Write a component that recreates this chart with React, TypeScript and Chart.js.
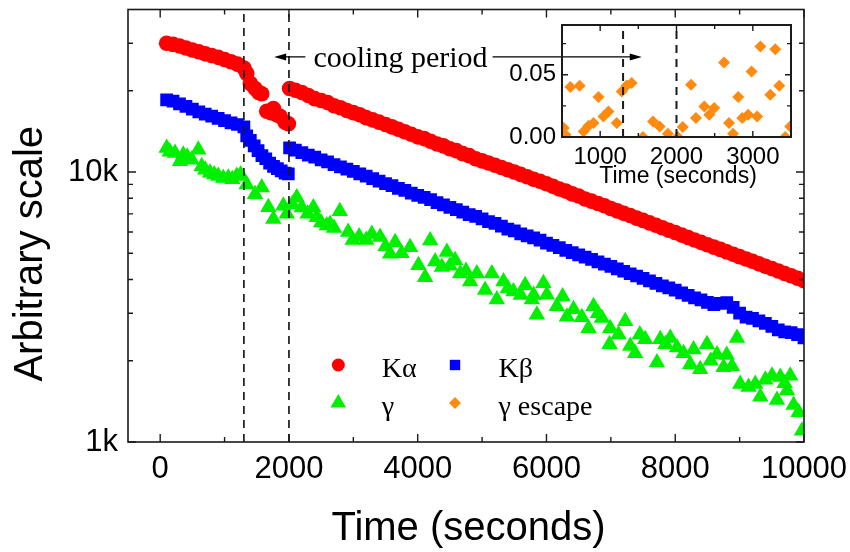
import React, { useEffect, useRef } from 'react';
import { Chart, registerables } from 'chart.js';

Chart.register(...registerables);

// ---------------- data ----------------
const earlyTime = [100, 200, 300, 400, 500, 600, 700, 800, 900, 1000, 1100, 1200, 1300];
const decayTime = [
  2010, 2100, 2200, 2300, 2400, 2500, 2600, 2700, 2800, 2900,
  3000, 3100, 3200, 3300, 3400, 3500, 3600, 3700, 3800, 3900,
  4000, 4100, 4200, 4300, 4400, 4500, 4600, 4700, 4800, 4900,
  5000, 5100, 5200, 5300, 5400, 5500, 5600, 5700, 5800, 5900,
  6000, 6100, 6200, 6300, 6400, 6500, 6600, 6700, 6800, 6900,
  7000, 7100, 7200, 7300, 7400, 7500, 7600, 7700, 7800, 7900,
  8000, 8100, 8200, 8300, 8400, 8500, 8600, 8700, 8800, 8900,
  9000, 9100, 9200, 9300, 9400, 9500, 9600, 9700, 9800, 9900, 10000,
];

const kaEarly = [30000, 29700, 29300, 28800, 28300, 27900, 27400, 27000, 26600, 26100, 25600, 25100, 24300];
const kaCoolTime = [1344, 1400, 1473, 1530, 1577, 1655, 1720, 1758, 1810, 1862, 1940, 1991];
const kaCool = [23200, 21300, 20400, 19700, 19500, 16800, 16600, 17200, 16300, 16100, 15300, 15100];
const kaDecay = [
  20400, 20100, 19700, 19200, 18700, 18400, 18100, 17600, 17300, 16900,
  16600, 16300, 15900, 15600, 15300, 15000, 14700, 14400, 14100, 13800,
  13500, 13300, 13000, 12700, 12500, 12200, 12000, 11700, 11500, 11200,
  11000, 10800, 10600, 10400, 10200, 10000, 9800, 9600, 9400, 9250,
  9050, 8850, 8650, 8500, 8300, 8150, 7950, 7800, 7650, 7500,
  7330, 7180, 7030, 6900, 6750, 6620, 6480, 6350, 6220, 6090,
  5970, 5840, 5720, 5600, 5490, 5380, 5270, 5170, 5060, 4960,
  4860, 4760, 4670, 4570, 4480, 4390, 4300, 4210, 4130, 4040, 3960,
];

const kbEarly = [18500, 18300, 17900, 17500, 17100, 16700, 16400, 16100, 15800, 15500, 15200, 15000, 14700];
const kbCoolTime = [1344, 1400, 1460, 1520, 1580, 1640, 1700, 1760, 1820, 1880, 1940, 1990];
const kbCool = [13600, 13100, 12500, 12000, 11500, 11200, 10800, 10500, 10300, 10100, 9900, 9850];
const kbDecay = [
  12300, 12050, 11800, 11550, 11350, 11100, 10900, 10650, 10450, 10250,
  10050, 9850, 9650, 9450, 9250, 9050, 8900, 8700, 8550, 8350,
  8200, 8050, 7900, 7700, 7550, 7400, 7250, 7100, 6950, 6850,
  6700, 6550, 6450, 6300, 6150, 6050, 5900, 5800, 5700, 5600,
  5450, 5350, 5250, 5130, 5030, 4930, 4840, 4750, 4650, 4560,
  4470, 4380, 4290, 4200, 4120, 4040, 3950, 3870, 3790, 3720,
  3650, 3570, 3490, 3420, 3360, 3290, 3230, 3260, 3280, 3150,
  3000, 2900, 2870, 2810, 2750, 2680, 2600, 2560, 2540, 2500, 2430,
];

const gammaTime = [
  101, 150, 230, 308, 359, 420, 490, 592, 645, 700, 774, 840, 903, 980, 1058, 1120, 1189, 1250,
  1344, 1473, 1577, 1680, 1758, 1913, 1966, 2050, 2121, 2199, 2290, 2379, 2432, 2500, 2587, 2639,
  2700, 2790, 2920, 2990, 3090, 3200, 3287, 3416, 3500, 3571, 3649, 3750, 3882, 4011, 4115, 4193,
  4271, 4375, 4453, 4500, 4581, 4659, 4750, 4814, 4918, 5047, 5151, 5229, 5332, 5400, 5487, 5600,
  5669, 5773, 5800, 5851, 5953, 6006, 6161, 6250, 6317, 6420, 6550, 6653, 6731, 6800, 6861, 6980,
  6990, 7119, 7223, 7301, 7378, 7450, 7534, 7716, 7767, 7850, 7922, 8027, 8130, 8233, 8285, 8388,
  8493, 8550, 8648, 8751, 8800, 8881, 8959, 9010, 9139, 9243, 9321, 9400, 9503, 9580, 9632, 9700,
  9736, 9787, 9839, 9917, 9969,
];
const gammaCounts = [
  12280, 11900, 11770, 10970, 11600, 11400, 11100, 12100, 10500, 10200, 9940, 9800, 9670, 9500, 9530, 9400, 9670, 9800,
  9000, 8270, 8760, 7400, 6700, 7500, 7000, 7600, 8050, 7390, 7000, 7390, 6800, 6500, 6340, 6420,
  6200, 7150, 5990, 5600, 5770, 5600, 5900, 5740, 5300, 4980, 5500, 5000, 5270, 4520, 4080, 5580,
  4660, 4450, 5060, 4500, 4710, 4210, 4300, 3930, 4210, 3660, 4210, 3370, 3930, 3700, 3610, 3500,
  3810, 3370, 3500, 2960, 3870, 3510, 3180, 3460, 2910, 3100, 2900, 2640, 3180, 3000, 2880, 2300,
  2640, 2500, 2800, 2270, 2130, 2500, 2400, 1970, 2400, 2300, 2430, 2240, 2130, 1940, 2200, 1860,
  2300, 2000, 2110, 1890, 2100, 1910, 2430, 1640, 1600, 1640, 1470, 1700, 1760, 1430, 1740, 1650,
  1550, 1760, 1370, 1290, 1100,
];

const escTime = [
  524, 545, 610, 731, 783, 848, 913, 978, 1043, 1108, 1217, 1282, 1347, 1412, 1560, 1692, 1779, 1887,
  2017, 2082, 2191, 2255, 2364, 2429, 2494, 2623, 2688, 2740, 2809, 2861, 2939, 2983, 3056, 3099,
  3229, 3294, 3346, 3424, 3489,
];
const escRatio = [
  0.0072, 0.0018, 0.0401, 0.0412, 0.0045, 0.0091, 0.0112, 0.0321, 0.0165, 0.0205, 0.0112, 0.0366, 0.0414, 0.0433, 0.0, 0.0125, 0.0085, 0.0026,
  0.0, 0.008, 0.042, 0.0152, 0.0246, 0.0179, 0.0233, 0.0599, 0.0112, 0.0026, 0.0321, 0.0152, 0.0179, 0.0527, 0.0165, 0.0727,
  0.0339, 0.0706, 0.0412, 0.0, 0.0085,
];

// axes / ticks
const xMin = -500;
const xMax = 10000;
const xTickValues = [0, 2000, 4000, 6000, 8000, 10000];
const xMinorValues = [1000, 3000, 5000, 7000, 9000];
const yMin = 1000;
const yMax = 40000;
const yTickValues = [1000, 10000];
const yTickLabels = ['1k', '10k'];
const yMinorValues = [2000, 3000, 4000, 5000, 6000, 7000, 8000, 9000, 20000, 30000];

const insetXMin = 500;
const insetXMax = 3500;
const insetXTicks = [1000, 2000, 3000];
const insetXMinor = [1500, 2500];
const insetYMin = 0;
const insetYMax = 0.09;
const insetYTicks = [0, 0.05];
const insetYMinor = [0.025, 0.075];

const coolingStart = 1300;
const coolingEnd = 2000;
const coolArrowLeft = 1770;
const coolTextStart = 2380;
const coolArrowRight = 7480;
const coolArrowLevel = 26700;
const coolLabel = 'cooling period';

const seriesNames = ['Kα', 'Kβ', 'γ', 'γ escape'];
const seriesColors = ['#ff0000', '#0000ff', '#00f000', '#ff8a10'];
const seriesShapes = ['circle', 'rect', 'triangle', 'rectRot'];

const xTitle = 'Time (seconds)';
const yTitle = 'Arbitrary scale';

const SANS = '"Liberation Sans", Arial, sans-serif';
const SERIF = '"Liberation Serif", "Times New Roman", serif';
const INK = '#1a1a1a';

// ---------------- helpers ----------------
const pts = (xs: number[], ys: number[]) => xs.map((x, i) => ({ x, y: ys[i] }));

function drawShape(ctx: CanvasRenderingContext2D, shape: string, x: number, y: number, r: number) {
  ctx.beginPath();
  if (shape === 'circle') {
    ctx.arc(x, y, r, 0, Math.PI * 2);
  } else if (shape === 'rect') {
    ctx.rect(x - r, y - r, 2 * r, 2 * r);
  } else if (shape === 'triangle') {
    const s = Math.sin(Math.PI / 3) * r;
    ctx.moveTo(x, y - r);
    ctx.lineTo(x + s, y + r / 2);
    ctx.lineTo(x - s, y + r / 2);
    ctx.closePath();
  } else {
    ctx.moveTo(x, y - r);
    ctx.lineTo(x + r, y);
    ctx.lineTo(x, y + r);
    ctx.lineTo(x - r, y);
    ctx.closePath();
  }
  ctx.fill();
}

function framePlugin(o: {
  xMajor: number[]; xMinor: number[]; yMajor: number[]; yMinor: number[];
  major: number; minor: number; frameWidth: number; tickWidth: number;
}) {
  return {
    id: 'frameTicks',
    afterDatasetsDraw(chart: any) {
      const { ctx, chartArea: a } = chart;
      const xs = chart.scales.x;
      const ys = chart.scales.y;
      ctx.save();
      ctx.strokeStyle = INK;
      ctx.lineWidth = o.tickWidth;
      ctx.beginPath();
      const xt = (vals: number[], len: number) =>
        vals.forEach((v) => {
          const p = xs.getPixelForValue(v);
          if (p < a.left - 0.5 || p > a.right + 0.5) return;
          ctx.moveTo(p, a.bottom);
          ctx.lineTo(p, a.bottom - len);
          ctx.moveTo(p, a.top);
          ctx.lineTo(p, a.top + len);
        });
      const yt = (vals: number[], len: number) =>
        vals.forEach((v) => {
          const p = ys.getPixelForValue(v);
          if (p < a.top - 0.5 || p > a.bottom + 0.5) return;
          ctx.moveTo(a.left, p);
          ctx.lineTo(a.left + len, p);
          ctx.moveTo(a.right, p);
          ctx.lineTo(a.right - len, p);
        });
      xt(o.xMajor, o.major);
      xt(o.xMinor, o.minor);
      yt(o.yMajor, o.major);
      yt(o.yMinor, o.minor);
      ctx.stroke();
      ctx.lineWidth = o.frameWidth;
      ctx.strokeRect(a.left, a.top, a.right - a.left, a.bottom - a.top);
      ctx.restore();
    },
  };
}

function titlePlugin(o: {
  xText: string; xFont: string; xDx: number; xBaseline: number;
  yText?: string; yFont?: string; yBaseline?: number; yDy?: number;
}) {
  return {
    id: 'axisTitles',
    afterDraw(chart: any) {
      const { ctx, chartArea: a } = chart;
      ctx.save();
      ctx.fillStyle = '#000';
      ctx.textAlign = 'center';
      ctx.textBaseline = 'alphabetic';
      ctx.font = o.xFont;
      ctx.fillText(o.xText, (a.left + a.right) / 2 + o.xDx, a.bottom + o.xBaseline);
      if (o.yText) {
        ctx.font = o.yFont;
        ctx.translate(a.left + (o.yBaseline as number), (a.top + a.bottom) / 2 + (o.yDy as number));
        ctx.rotate(-Math.PI / 2);
        ctx.fillText(o.yText, 0, 0);
      }
      ctx.restore();
    },
  };
}

const annotationPlugin = {
  id: 'coolingArrow',
  afterDraw(chart: any) {
    const { ctx } = chart;
    const xs = chart.scales.x;
    const ys = chart.scales.y;
    const y = ys.getPixelForValue(coolArrowLevel);
    const xl = xs.getPixelForValue(coolArrowLeft);
    const xr = xs.getPixelForValue(coolArrowRight);
    const xt = xs.getPixelForValue(coolTextStart);
    ctx.save();
    ctx.font = `30px ${SERIF}`;
    const w = ctx.measureText(coolLabel).width;
    ctx.fillStyle = '#000';
    ctx.textAlign = 'left';
    ctx.textBaseline = 'alphabetic';
    ctx.fillText(coolLabel, xt, y + 10);
    ctx.strokeStyle = '#000';
    ctx.lineWidth = 1.2;
    ctx.beginPath();
    ctx.moveTo(xl + 4, y);
    ctx.lineTo(xt - 8, y);
    ctx.moveTo(xt + w + 5, y);
    ctx.lineTo(xr - 4, y);
    ctx.stroke();
    ctx.beginPath();
    ctx.moveTo(xl, y);
    ctx.lineTo(xl + 12, y - 3.5);
    ctx.lineTo(xl + 12, y + 3.5);
    ctx.closePath();
    ctx.moveTo(xr, y);
    ctx.lineTo(xr - 12, y - 3.5);
    ctx.lineTo(xr - 12, y + 3.5);
    ctx.closePath();
    ctx.fill();
    ctx.restore();
  },
};

const legendPlugin = {
  id: 'innerLegend',
  afterDraw(chart: any) {
    const { ctx, chartArea: a } = chart;
    const cols = [a.left + 210.3, a.left + 327];
    const rows = [a.bottom - 77, a.bottom - 39];
    const sizes: Record<string, number> = { circle: 6.5, rect: 5.2, triangle: 9, rectRot: 6 };
    const order = [0, 1, 2, 3];
    ctx.save();
    ctx.font = `28px ${SERIF}`;
    ctx.textAlign = 'left';
    ctx.textBaseline = 'alphabetic';
    order.forEach((s, i) => {
      const cx = cols[i % 2];
      const cy = rows[Math.floor(i / 2)];
      ctx.fillStyle = seriesColors[s];
      drawShape(ctx, seriesShapes[s], cx, cy, sizes[seriesShapes[s]]);
      ctx.fillStyle = '#000';
      ctx.fillText(seriesNames[s], cx + 43.5, cy + 11.5);
    });
    ctx.restore();
  },
};

const noPad = (s: any) => {
  s.paddingTop = 0;
  s.paddingBottom = 0;
  s.paddingLeft = 0;
  s.paddingRight = 0;
};

// ---------------- component ----------------
export default function App() {
  const mainRef = useRef<HTMLCanvasElement | null>(null);
  const insetRef = useRef<HTMLCanvasElement | null>(null);

  useEffect(() => {
    document.body.style.margin = '0';
    const tickFont = { family: SANS, size: 31 };

    const kaData = pts([...earlyTime, ...kaCoolTime, ...decayTime], [...kaEarly, ...kaCool, ...kaDecay]);
    const kbData = pts([...earlyTime, ...kbCoolTime, ...decayTime], [...kbEarly, ...kbCool, ...kbDecay]);
    const gData = pts(gammaTime, gammaCounts);

    const dashLine = (x: number, lo: number, hi: number, w: number) => ({
      label: 'dash',
      data: [{ x, y: lo }, { x, y: hi }],
      showLine: true,
      borderColor: INK,
      borderWidth: w,
      borderDash: [8, 6],
      pointRadius: 0,
      clip: 0,
      order: 0,
    });

    const main = new Chart(mainRef.current as HTMLCanvasElement, {
      type: 'scatter',
      data: {
        datasets: [
          dashLine(coolingStart, yMin, yMax, 1.7) as any,
          dashLine(coolingEnd, yMin, yMax, 1.7) as any,
          {
            label: seriesNames[0], data: kaData, pointStyle: 'circle', pointRadius: 7.8,
            backgroundColor: seriesColors[0], borderWidth: 0, clip: 0, order: 1,
          },
          {
            label: seriesNames[1], data: kbData, pointStyle: 'rect', pointRadius: 9,
            backgroundColor: seriesColors[1], borderWidth: 0, clip: 0, order: 1,
          },
          {
            label: seriesNames[2], data: gData, pointStyle: 'triangle', pointRadius: 9.5,
            backgroundColor: seriesColors[2], borderWidth: 0, clip: 0, order: 1,
          },
        ],
      },
      options: {
        responsive: false,
        animation: false,
        devicePixelRatio: 1,
        events: [],
        layout: { padding: { left: 0, right: 46, top: 5, bottom: 0 } },
        plugins: { legend: { display: false }, tooltip: { enabled: false } },
        scales: {
          x: {
            type: 'linear', min: xMin, max: xMax,
            afterBuildTicks: (s: any) => { s.ticks = xTickValues.map((value) => ({ value })); },
            afterFit: (s: any) => { s.height = 110; noPad(s); },
            grid: { display: false, drawTicks: false },
            border: { display: false },
            ticks: { padding: 9, color: '#000', font: tickFont, maxRotation: 0, callback: (v: any) => String(v) },
          },
          y: {
            type: 'logarithmic', min: yMin, max: yMax,
            afterBuildTicks: (s: any) => { s.ticks = yTickValues.map((value) => ({ value })); },
            afterFit: (s: any) => { s.width = 128; noPad(s); },
            grid: { display: false, drawTicks: false },
            border: { display: false },
            ticks: {
              padding: 10, color: '#000', font: tickFont,
              callback: (v: any) => { const i = yTickValues.indexOf(Number(v)); return i >= 0 ? yTickLabels[i] : ''; },
            },
          },
        },
      } as any,
      plugins: [
        framePlugin({ xMajor: xTickValues, xMinor: xMinorValues, yMajor: yTickValues, yMinor: yMinorValues, major: 8, minor: 5, frameWidth: 1.6, tickWidth: 1.4 }),
        titlePlugin({ xText: xTitle, xFont: `40px ${SANS}`, xDx: 2.5, xBaseline: 97.5, yText: yTitle, yFont: `40px ${SANS}`, yBaseline: -86.3, yDy: 28 }),
        annotationPlugin,
        legendPlugin,
      ],
    });

    const inset = new Chart(insetRef.current as HTMLCanvasElement, {
      type: 'scatter',
      data: {
        datasets: [
          dashLine(coolingStart, insetYMin, insetYMax, 2) as any,
          dashLine(coolingEnd, insetYMin, insetYMax, 2) as any,
          {
            label: seriesNames[3], data: pts(escTime, escRatio), pointStyle: 'rectRot', pointRadius: 6,
            backgroundColor: seriesColors[3], borderWidth: 0, clip: 0, order: 1,
          },
        ],
      },
      options: {
        responsive: false,
        animation: false,
        devicePixelRatio: 1,
        events: [],
        layout: { padding: { left: 0, right: 19, top: 25, bottom: 0 } },
        plugins: { legend: { display: false }, tooltip: { enabled: false } },
        scales: {
          x: {
            type: 'linear', min: insetXMin, max: insetXMax,
            afterBuildTicks: (s: any) => { s.ticks = insetXTicks.map((value) => ({ value })); },
            afterFit: (s: any) => { s.height = 63; noPad(s); },
            grid: { display: false, drawTicks: false },
            border: { display: false },
            ticks: { padding: 6, color: '#000', font: { family: SANS, size: 24 }, maxRotation: 0, callback: (v: any) => String(v) },
          },
          y: {
            type: 'linear', min: insetYMin, max: insetYMax,
            afterBuildTicks: (s: any) => { s.ticks = insetYTicks.map((value) => ({ value })); },
            afterFit: (s: any) => { s.width = 82; noPad(s); },
            grid: { display: false, drawTicks: false },
            border: { display: false },
            ticks: { padding: 6, color: '#000', font: { family: SANS, size: 24 }, callback: (v: any) => Number(v).toFixed(2) },
          },
        },
      } as any,
      plugins: [
        framePlugin({ xMajor: insetXTicks, xMinor: insetXMinor, yMajor: insetYTicks, yMinor: insetYMinor, major: 6, minor: 4, frameWidth: 2, tickWidth: 1.4 }),
        titlePlugin({ xText: xTitle, xFont: `23px ${SANS}`, xDx: 1.5, xBaseline: 46 }),
      ],
    });

    return () => {
      main.destroy();
      inset.destroy();
    };
  }, []);

  return (
    <div style={{ position: 'relative', width: 850, height: 552, background: '#fff' }}>
      <canvas ref={mainRef} width={850} height={552} style={{ position: 'absolute', left: 0, top: 0, width: 850, height: 552 }} />
      <canvas ref={insetRef} width={330} height={200} style={{ position: 'absolute', left: 480, top: 0, width: 330, height: 200 }} />
    </div>
  );
}
